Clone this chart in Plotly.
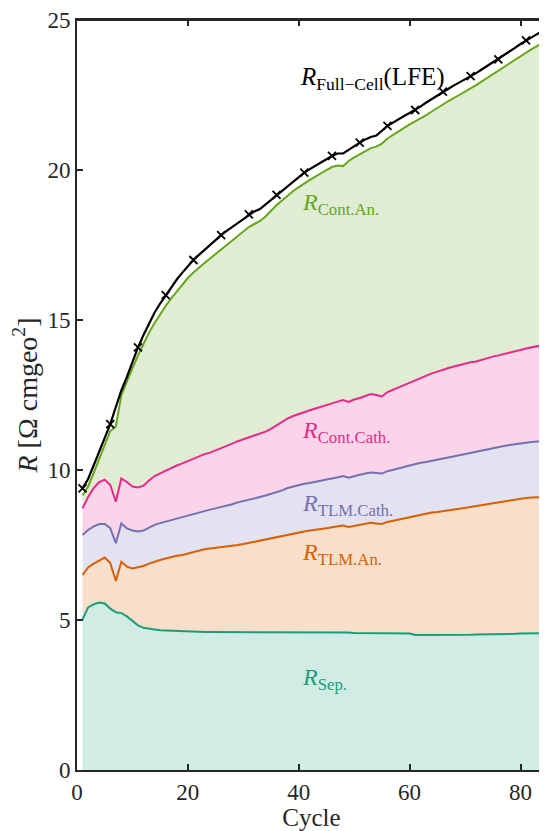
import plotly.graph_objects as go

cycles = list(range(1, 86))

r_full_cell = [9.39, 9.7, 10.15, 10.6, 11.05, 11.53, 12.1, 12.65, 13.1, 13.6,
               14.09, 14.5, 14.9, 15.25, 15.55, 15.83, 16.1, 16.35, 16.58, 16.8,
               17.0, 17.17, 17.34, 17.5, 17.67, 17.83, 17.97, 18.1, 18.24, 18.38,
               18.52, 18.62, 18.7, 18.85, 19.02, 19.17, 19.33, 19.48, 19.62, 19.76,
               19.91, 20.03, 20.13, 20.25, 20.36, 20.47, 20.55, 20.55, 20.67, 20.8,
               20.91, 21.02, 21.1, 21.15, 21.3, 21.47, 21.58, 21.7, 21.8, 21.9,
               22.0, 22.12, 22.25, 22.37, 22.49, 22.61, 22.71, 22.82, 22.92, 23.02,
               23.13, 23.23, 23.35, 23.47, 23.58, 23.69, 23.82, 23.94, 24.07, 24.2,
               24.32, 24.42, 24.53, 24.64, 24.76]

r_cont_an = [9.15, 9.45, 9.9, 10.35, 10.8, 11.3, 11.45, 12.5, 12.95, 13.4,
             13.82, 14.2, 14.58, 14.9, 15.2, 15.47, 15.72, 15.95, 16.18, 16.4,
             16.58, 16.75, 16.9, 17.05, 17.2, 17.33, 17.48, 17.62, 17.78, 17.95,
             18.1, 18.2, 18.3, 18.45, 18.65, 18.83, 18.98, 19.15, 19.3, 19.43,
             19.56, 19.67, 19.78, 19.9, 20.0, 20.1, 20.15, 20.13, 20.3, 20.42,
             20.53, 20.63, 20.73, 20.78, 20.88, 21.05, 21.17, 21.28, 21.4, 21.52,
             21.62, 21.72, 21.83, 21.95, 22.07, 22.18, 22.3, 22.4, 22.5, 22.6,
             22.72, 22.83, 22.95, 23.07, 23.18, 23.3, 23.42, 23.54, 23.66, 23.8,
             23.92, 24.03, 24.13, 24.24, 24.35]

r_cont_cath = [8.72, 9.1, 9.4, 9.6, 9.68, 9.5, 8.94, 9.72, 9.6, 9.45,
               9.42, 9.48, 9.65, 9.8, 9.89, 9.98, 10.06, 10.15, 10.22, 10.3,
               10.38, 10.47, 10.53, 10.58, 10.65, 10.73, 10.8, 10.88, 10.96, 11.02,
               11.08, 11.15, 11.2, 11.28, 11.37, 11.48, 11.6, 11.72, 11.8, 11.87,
               11.93, 11.99, 12.05, 12.1, 12.15, 12.22, 12.28, 12.33, 12.27, 12.35,
               12.4, 12.47, 12.53, 12.5, 12.45, 12.6, 12.68, 12.75, 12.83, 12.92,
               13.0, 13.08, 13.15, 13.22, 13.28, 13.35, 13.4, 13.45, 13.5, 13.55,
               13.59, 13.62, 13.68, 13.73, 13.78, 13.82, 13.86, 13.9, 13.96, 14.0,
               14.05, 14.09, 14.13, 14.17, 14.2]

r_tlm_cath = [7.83, 8.0, 8.12, 8.2, 8.2, 8.06, 7.56, 8.22, 8.05, 7.98,
              7.95, 7.98, 8.08, 8.17, 8.23, 8.28, 8.33, 8.38, 8.43, 8.5,
              8.55, 8.6, 8.64, 8.68, 8.72, 8.76, 8.8, 8.86, 8.92, 8.96,
              9.0, 9.05, 9.1, 9.15, 9.2, 9.26, 9.32, 9.4, 9.45, 9.5,
              9.54, 9.57, 9.6, 9.64, 9.68, 9.72, 9.76, 9.8, 9.74, 9.8,
              9.84, 9.88, 9.92, 9.9, 9.88, 9.96, 10.0, 10.05, 10.1, 10.15,
              10.2, 10.24, 10.27, 10.3, 10.34, 10.38, 10.42, 10.46, 10.5, 10.54,
              10.58, 10.61, 10.64, 10.68, 10.72, 10.76, 10.8, 10.83, 10.86, 10.89,
              10.91, 10.93, 10.95, 10.97, 10.98]

r_tlm_an = [6.5, 6.75, 6.88, 6.98, 7.08, 6.9, 6.3, 6.94, 6.78, 6.72,
            6.76, 6.8, 6.88, 6.95, 7.0, 7.05, 7.1, 7.14, 7.17, 7.22,
            7.28, 7.33, 7.36, 7.38, 7.4, 7.42, 7.45, 7.47, 7.5, 7.53,
            7.57, 7.61, 7.65, 7.68, 7.72, 7.75, 7.8, 7.84, 7.88, 7.92,
            7.95, 7.98, 8.0, 8.03, 8.06, 8.09, 8.12, 8.15, 8.1, 8.13,
            8.17, 8.2, 8.24, 8.22, 8.2, 8.27, 8.31, 8.35, 8.4, 8.44,
            8.48, 8.52, 8.55, 8.58, 8.6, 8.62, 8.65, 8.68, 8.71, 8.74,
            8.77, 8.8, 8.84, 8.87, 8.9, 8.93, 8.96, 8.99, 9.02, 9.05,
            9.07, 9.08, 9.09, 9.1, 9.1]

r_sep = [5.02, 5.42, 5.52, 5.58, 5.55, 5.38, 5.26, 5.23, 5.12, 4.96,
         4.82, 4.74, 4.7, 4.68, 4.66, 4.65, 4.64, 4.63, 4.62, 4.62,
         4.61, 4.61, 4.6, 4.6, 4.6, 4.6, 4.59, 4.59, 4.59, 4.59,
         4.59, 4.58, 4.58, 4.58, 4.58, 4.58, 4.58, 4.58, 4.58, 4.58,
         4.58, 4.58, 4.58, 4.58, 4.58, 4.58, 4.58, 4.58, 4.58, 4.57,
         4.57, 4.57, 4.57, 4.57, 4.56, 4.56, 4.56, 4.56, 4.56, 4.55,
         4.5, 4.5, 4.49, 4.49, 4.49, 4.5, 4.5, 4.5, 4.5, 4.51,
         4.51, 4.52, 4.52, 4.52, 4.53, 4.53, 4.54, 4.54, 4.54, 4.55,
         4.55, 4.55, 4.56, 4.56, 4.56]

labels = ["<i>R</i><sub>Sep.</sub>", "<i>R</i><sub>TLM.An.</sub>",
          "<i>R</i><sub>TLM.Cath.</sub>", "<i>R</i><sub>Cont.Cath.</sub>",
          "<i>R</i><sub>Cont.An.</sub>", "<i>R</i><sub>Full\u2212Cell</sub>(LFE)"]
label_x = [40.2, 40.2, 40.2, 40.2, 40.2, 39.9]
label_y = [3.02, 7.2, 8.85, 11.28, 18.87, 23.06]
label_size = [24, 24, 24, 24, 24, 25]

colors = ["#1B9E77", "#D95F02", "#7570B3", "#E7298A", "#66A61E", "#000000"]
fills = ["rgba(27,158,119,0.2)", "rgba(217,95,2,0.2)", "rgba(117,112,179,0.2)",
         "rgba(231,41,138,0.2)", "rgba(102,166,30,0.2)"]

series = [r_sep, r_tlm_an, r_tlm_cath, r_cont_cath, r_cont_an]

fig = go.Figure()
for i, ys in enumerate(series):
    fig.add_trace(go.Scatter(
        x=cycles, y=ys, mode="lines",
        line=dict(color=colors[i], width=2),
        fill="tozeroy" if i == 0 else "tonexty",
        fillcolor=fills[i], showlegend=False, hoverinfo="skip"))

fig.add_trace(go.Scatter(x=cycles, y=r_full_cell, mode="lines",
                         line=dict(color="#000000", width=2.2),
                         showlegend=False))
fig.add_trace(go.Scatter(x=cycles[::5], y=r_full_cell[::5], mode="markers",
                         marker=dict(symbol="x-thin", size=8,
                                     line=dict(color="#000000", width=1.8)),
                         showlegend=False))

for t, xx, yy, c, s in zip(labels, label_x, label_y, colors, label_size):
    fig.add_annotation(x=xx, y=yy, xref="x", yref="y", text=t, showarrow=False,
                       xanchor="left", yanchor="middle",
                       font=dict(family="Liberation Serif", size=s, color=c))

axis_common = dict(showline=True, linecolor="#262626", linewidth=2,
                   mirror="ticks", ticks="inside", ticklen=6, tickwidth=1.5,
                   tickcolor="#262626", showgrid=False, zeroline=False,
                   ticklabeloverflow="allow",
                   tickfont=dict(family="Liberation Serif", size=23, color="#262626"))

fig.update_xaxes(range=[0, 84.6], tickvals=[0, 20, 40, 60, 80],
                 title=dict(text="Cycle", standoff=3,
                            font=dict(family="Liberation Serif", size=25, color="#262626")),
                 **axis_common)
fig.update_yaxes(range=[0, 25], tickvals=[0, 5, 10, 15, 20, 25],
                 title=dict(text="<i>R</i> [\u03a9 cmgeo<sup>2</sup>]", standoff=8,
                            font=dict(family="Liberation Serif", size=28, color="#262626")),
                 **axis_common)

# frame: top and right spines
fig.add_shape(type="line", xref="paper", yref="paper", x0=0, x1=1, y0=1, y1=1,
              line=dict(color="#262626", width=2), layer="above")
fig.add_shape(type="line", xref="paper", yref="paper", x0=1, x1=1, y0=0, y1=1,
              line=dict(color="#262626", width=2), layer="above")

fig.update_layout(width=539, height=823,
                  margin=dict(l=69, r=1, t=12, b=61, autoexpand=False),
                  plot_bgcolor="white", paper_bgcolor="white")

fig.write_html("out.html")
